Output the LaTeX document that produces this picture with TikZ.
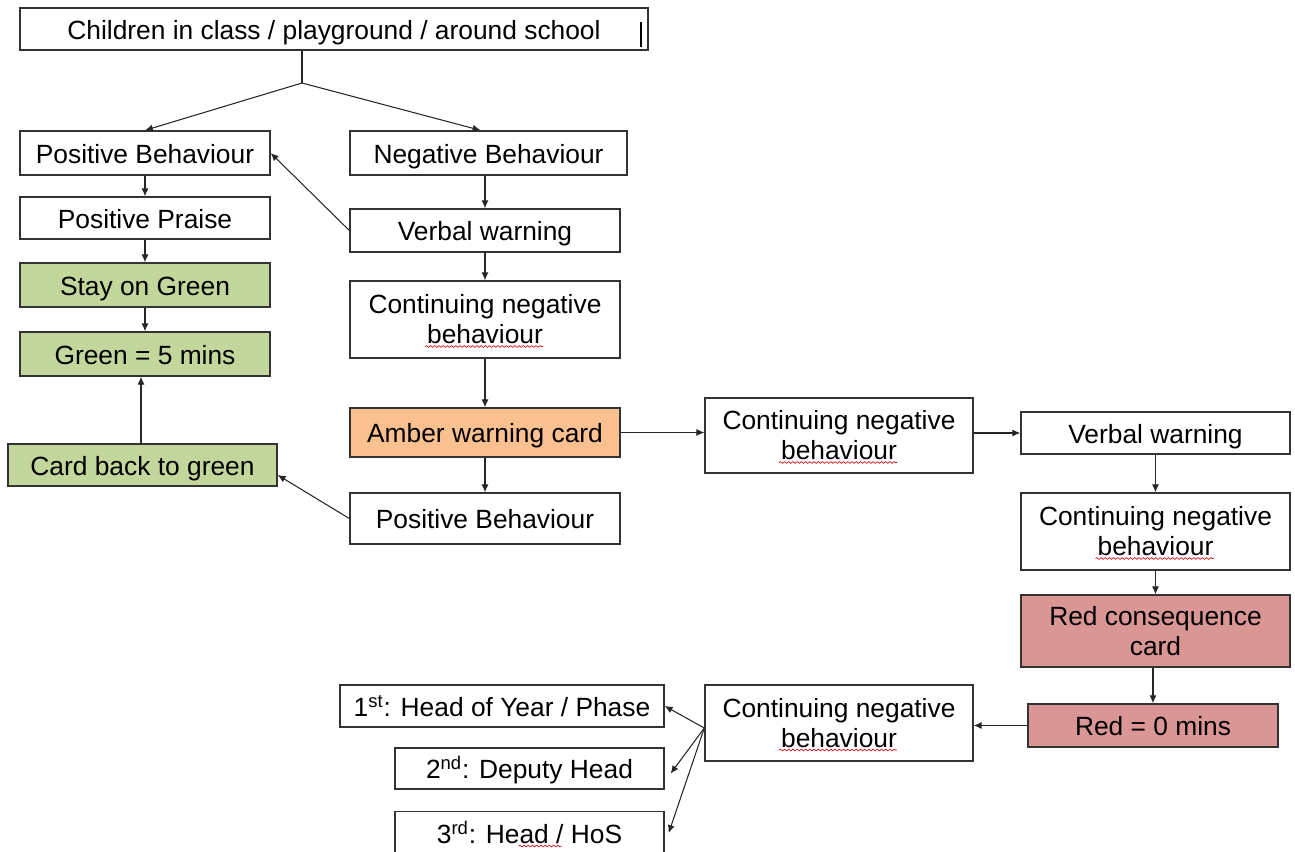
\documentclass[tikz,border=0pt]{standalone}
\usepackage{fontspec}
\setmainfont{Liberation Sans}
\usetikzlibrary{arrows.meta,decorations.pathmorphing}
\definecolor{greencard}{HTML}{C3D69B}
\definecolor{ambercard}{HTML}{FAC090}
\definecolor{redcard}{HTML}{D99694}

\begin{document}
\begin{tikzpicture}[x=0.02cm,y=-0.02cm,
  box/.style={draw=black!80,line width=0.8pt,minimum width=5.4cm,minimum height=0.86cm,
    inner sep=0pt,align=center,text height=14pt,text depth=2.4pt,font=\fontsize{15}{17}\selectfont},
  twoline/.style={text height={},text depth={}},
  greenbox/.style={box,fill=greencard,minimum width=5cm},
  amberbox/.style={box,fill=ambercard},
  redbox/.style={box,fill=redcard},
  arrow/.style={-{Latex[length=4.5pt,width=4pt]},line width=0.6pt,black!85},
  spell/.style={red!85!black,line width=0.35pt,decorate,decoration={snake,amplitude=0.5pt,segment length=2.4pt}}]
  \useasboundingbox (0,0) rectangle (1295,852);

  % top
  \node[box,minimum width=12.56cm,minimum height=0.84cm] (start) at (334,29) {Children in class / playground / around school};
  \draw[line width=1.2pt] (641,22) -- (641,47);
  \coordinate (split) at (302,83);

  % left column
  \node[box,minimum width=5cm,minimum height=0.88cm] (posbeh) at (145,153) {Positive Behaviour};
  \node[box,minimum width=5cm,minimum height=0.84cm] (praise) at (145,218) {Positive Praise};
  \node[greenbox,minimum height=0.88cm] (stay) at (145,285) {Stay on Green};
  \node[greenbox,minimum height=0.88cm] (green5) at (145,354) {Green = 5 mins};
  \node[greenbox,minimum width=5.38cm,minimum height=0.84cm] (back) at (142.5,465) {Card back to green};

  % middle column
  \node[box,minimum width=5.54cm,minimum height=0.88cm] (negbeh) at (488.5,153) {Negative Behaviour};
  \node[box] (verbal1) at (485,230.5) {Verbal warning};
  \node[box,twoline,minimum height=1.54cm] (cont1) at (485,319.5) {Continuing negative\\behaviour};
  \node[amberbox,minimum height=0.98cm] (amber) at (485,432.5) {Amber warning card};
  \node[box,minimum height=1.02cm] (posbeh2) at (485,518.5) {Positive Behaviour};

  % right side
  \node[box,twoline,minimum width=5.36cm,minimum height=1.5cm] (cont2) at (839,435.5) {Continuing negative\\behaviour};
  \node[box,minimum width=5.38cm,minimum height=0.84cm] (verbal2) at (1155.5,433) {Verbal warning};
  \node[box,twoline,minimum width=5.38cm,minimum height=1.54cm] (cont3) at (1155.5,531.5) {Continuing negative\\behaviour};
  \node[redbox,twoline,minimum width=5.38cm,minimum height=1.44cm] (red) at (1155.5,631) {Red consequence\\card};
  \node[redbox,minimum width=5cm,minimum height=0.86cm] (red0) at (1153,725.5) {Red = 0 mins};

  % bottom row
  \node[box,twoline,minimum width=5.36cm,minimum height=1.52cm] (cont4) at (839,723) {Continuing negative\\behaviour};
  \node[box,minimum width=6.48cm,minimum height=0.84cm] (first) at (502,706) {1\textsuperscript{st}: Head of Year / Phase};
  \node[box,minimum width=5.38cm,minimum height=0.82cm] (second) at (529.5,768.5) {2\textsuperscript{nd}: Deputy Head};
  \node[box,minimum width=5.38cm,minimum height=0.86cm] (third) at (529.5,833) {3\textsuperscript{rd}: Head / HoS};

  % connectors
  \draw[line width=0.6pt,black!85] (start.south -| split) -- (split);
  \draw[arrow] (split) -- (posbeh.north);
  \draw[arrow] (split) -- ([xshift=-0.16cm]negbeh.north);
  \draw[arrow] (posbeh) -- (praise);
  \draw[arrow] (praise) -- (stay);
  \draw[arrow] (stay) -- (green5);
  \draw[arrow] ([xshift=-0.03cm]back.north) -- ([xshift=-0.03cm]back.north |- green5.south);
  \draw[arrow] (negbeh.south -| verbal1) -- (verbal1);
  \draw[arrow] (verbal1.west) -- (posbeh.east);
  \draw[arrow] (verbal1) -- (cont1);
  \draw[arrow] (cont1) -- (amber);
  \draw[arrow] (amber) -- (posbeh2);
  \draw[arrow] (posbeh2.west) -- ([yshift=-0.2cm]back.east);
  \draw[arrow] (amber) -- (amber -| cont2.west);
  \draw[arrow] (cont2.east |- verbal2) -- (verbal2);
  \draw[arrow] (verbal2.south -| red) -- (cont3.north -| red);
  \draw[arrow] (cont3.south -| red) -- (red);
  \draw[arrow] (red.south -| red0) -- (red0);
  \draw[arrow] (red0.west) -- (red0.west -| cont4.east);
  \draw[arrow] ([yshift=-0.1cm]cont4.west) -- (first.east);
  \draw[arrow] ([yshift=-0.1cm]cont4.west) -- ([xshift=0.12cm,yshift=-0.1cm]second.east);
  \draw[arrow] ([yshift=-0.1cm]cont4.west) -- ([xshift=0.08cm]third.east);

  % spelling marks
  \foreach \n in {cont1,cont2,cont3,cont4}
    \draw[spell] ([shift={(-60,27)}]\n.center) -- ([shift={(58,27)}]\n.center);
  \draw[spell] ([shift={(-11,13)}]third.center) -- ([shift={(32,13)}]third.center);
\end{tikzpicture}
\end{document}
